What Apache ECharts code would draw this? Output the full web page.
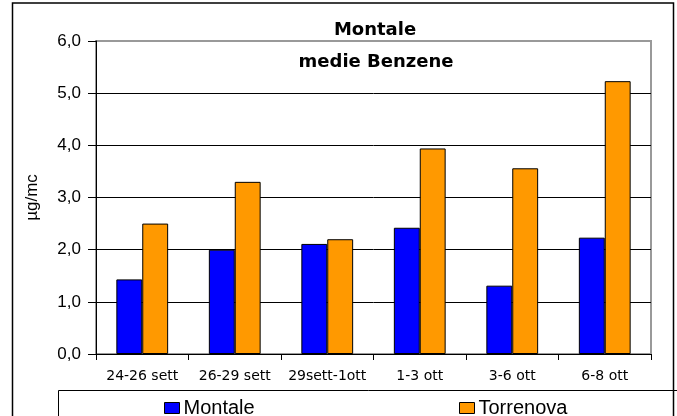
<!DOCTYPE html>
<html>
<head>
<meta charset="utf-8">
<script src="https://cdn.jsdelivr.net/npm/echarts@6/dist/echarts.min.js"></script>
<style>
html,body{margin:0;padding:0;background:#fff;}
#chart{width:677px;height:416px;}
</style>
</head>
<body>
<div id="chart"></div>
<script>
// periodi di campionamento
var categories = ['24-26 sett', '26-29 sett', '29sett-1ott', '1-3 ott', '3-6 ott', '6-8 ott'];
var montale = [1.43, 2.0, 2.11, 2.42, 1.31, 2.23];
var torrenova = [2.5, 3.3, 2.2, 3.94, 3.56, 5.23];
var yTicks = [0, 1, 2, 3, 4, 5, 6];

var font = 'Liberation Sans, Arial, sans-serif';
var wide = 'DejaVu Sans, Verdana, sans-serif';
var myChart = echarts.init(document.getElementById('chart'));

var option = {
    backgroundColor: '#fff',
    animation: false,
    title: [
        {text: 'Montale', left: 370, top: 16, textAlign: 'center',
            textStyle: {fontFamily: wide, fontSize: 18, fontWeight: 'bold', color: '#000'}},
        {text: 'medie Benzene', left: 371, top: 48, textAlign: 'center',
            textStyle: {fontFamily: wide, fontSize: 18, fontWeight: 'bold', color: '#000'}}
    ],
    legend: [
        {data: ['Montale'], left: 159, top: 393, icon: 'rect', itemWidth: 15, itemHeight: 11, itemGap: 5,
            itemStyle: {borderColor: '#000', borderWidth: 1},
            textStyle: {fontFamily: font, fontSize: 20, color: '#000', padding: [0, 0, 0, -1]}},
        {data: ['Torrenova'], left: 454, top: 393, icon: 'rect', itemWidth: 15, itemHeight: 11, itemGap: 5,
            itemStyle: {borderColor: '#000', borderWidth: 1},
            textStyle: {fontFamily: font, fontSize: 20, color: '#000', padding: [0, 0, 0, -1]}}
    ],
    grid: {left: 96, top: 41, right: 26, bottom: 62, show: true, borderColor: '#999', borderWidth: 2},
    xAxis: {
        type: 'category',
        data: categories,
        axisLine: {lineStyle: {color: '#000', width: 1}},
        axisTick: {show: true, interval: 0, length: 6, lineStyle: {color: '#000'}},
        axisLabel: {interval: 0, hideOverlap: false, fontFamily: wide, fontSize: 14, color: '#000', margin: 15}
    },
    yAxis: {
        type: 'value',
        min: yTicks[0],
        max: yTicks[yTicks.length - 1],
        interval: 1,
        name: 'µg/mc',
        nameLocation: 'middle',
        nameGap: 55,
        nameTextStyle: {fontFamily: font, fontSize: 17, color: '#000'},
        axisLine: {show: true, lineStyle: {color: '#000', width: 1}},
        axisTick: {show: true, length: 8, lineStyle: {color: '#000'}},
        axisLabel: {
            fontFamily: font, fontSize: 17, color: '#000', margin: 15,
            formatter: function(v){ return v.toFixed(1).replace('.', ','); }
        },
        splitLine: {lineStyle: {color: ['#000', '#000', '#000', '#000', '#000', '#000', '#999'], width: 1}}
    },
    series: [
        {
            name: 'Montale',
            type: 'bar',
            data: montale,
            barGap: '0%',
            barCategoryGap: '44%',
            itemStyle: {color: '#0000ff', borderColor: '#000', borderWidth: 1}
        },
        {
            name: 'Torrenova',
            type: 'bar',
            data: torrenova,
            itemStyle: {color: '#ff9900', borderColor: '#000', borderWidth: 1}
        }
    ],
    graphic: [
        {type: 'rect', shape: {x: 12.5, y: 3, width: 661, height: 430}, silent: true, z: -1,
            style: {fill: null, stroke: '#000', lineWidth: 1.5}},
        {type: 'rect', shape: {x: 58.5, y: 390.5, width: 640, height: 40}, silent: true, z: -1,
            style: {fill: null, stroke: '#000', lineWidth: 1}}
    ]
};
myChart.setOption(option);
</script>
</body>
</html>
